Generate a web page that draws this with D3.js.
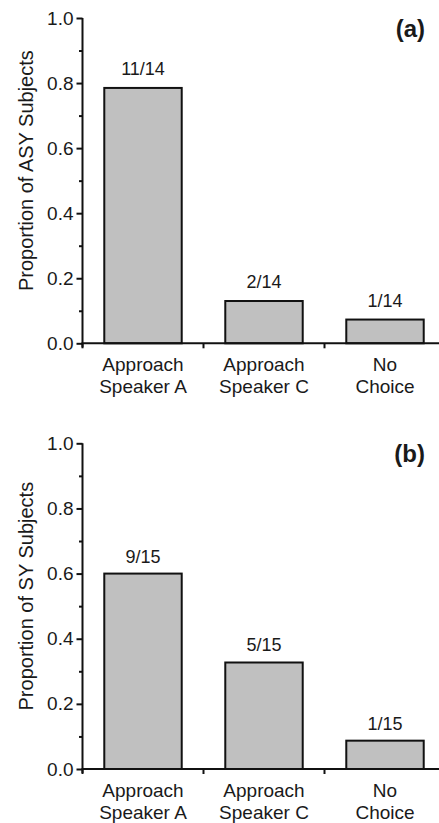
<!DOCTYPE html>
<html>
<head>
<meta charset="utf-8">
<script src="https://cdn.jsdelivr.net/npm/d3@7"></script>
<style>
  html, body { margin: 0; padding: 0; background: #fff; }
  svg { display: block; }
  text { font-family: "Liberation Sans", Arial, sans-serif; fill: #1a1a1a; }
</style>
</head>
<body>
<svg id="chart" width="439" height="823"></svg>
<script>
// ---- data ----
const categories = ["Approach Speaker A", "Approach Speaker C", "No Choice"];
const categoryLines = [["Approach", "Speaker A"], ["Approach", "Speaker C"], ["No", "Choice"]];
const valuesA = [0.785, 0.13, 0.073];
const labelsA = ["11/14", "2/14", "1/14"];
const valuesB = [0.6, 0.327, 0.087];
const labelsB = ["9/15", "5/15", "1/15"];
const majorTicks = [0.0, 0.2, 0.4, 0.6, 0.8, 1.0];
const minorTicks = [0.1, 0.3, 0.5, 0.7, 0.9];
const panelTitles = ["Proportion of ASY Subjects", "Proportion of SY Subjects"];
const panelTags = ["(a)", "(b)"];

const svg = d3.select("#chart");

const panels = [
  { values: valuesA, labels: labelsA, title: panelTitles[0], tag: panelTags[0], top: 18, bottom: 343.3, labelGap: 13 },
  { values: valuesB, labels: labelsB, title: panelTitles[1], tag: panelTags[1], top: 443.3, bottom: 769, labelGap: 11 }
];

const axisX = 82.5;

panels.forEach(p => {
  const g = svg.append("g");
  const y = d3.scaleLinear().domain([0, 1]).range([p.bottom, p.top]);
  const x = d3.scaleBand().domain(categories).range([axisX, axisX + 363]).paddingInner(0.36).paddingOuter(0.18);

  // bars
  g.selectAll("rect.bar").data(p.values).join("rect")
    .attr("class", "bar")
    .attr("x", (d, i) => x(categories[i]))
    .attr("width", x.bandwidth())
    .attr("y", d => y(d))
    .attr("height", d => y(0) - y(d))
    .attr("fill", "#c0c0c0")
    .attr("stroke", "#111")
    .attr("stroke-width", 2);

  // value labels
  g.selectAll("text.val").data(p.values).join("text")
    .attr("class", "val")
    .attr("x", (d, i) => x(categories[i]) + x.bandwidth() / 2)
    .attr("y", d => y(d) - p.labelGap)
    .attr("text-anchor", "middle")
    .attr("font-size", 18)
    .text((d, i) => p.labels[i]);

  // y axis major
  const ya = g.append("g").attr("transform", `translate(${axisX},0)`)
    .call(d3.axisLeft(y).tickValues(majorTicks).tickFormat(d3.format(".1f")).tickSize(6).tickSizeOuter(0).tickPadding(3));
  ya.select(".domain").attr("stroke", "#111").attr("stroke-width", 2).attr("d", `M0,${y(1)}V${y(0) + 4}`);
  ya.selectAll(".tick line").attr("stroke", "#111").attr("stroke-width", 2);
  ya.selectAll(".tick text").attr("font-size", 19).attr("fill", "#1a1a1a")
    .attr("font-family", '"Liberation Sans", Arial, sans-serif');

  // y axis minor
  const ym = g.append("g").attr("transform", `translate(${axisX},0)`)
    .call(d3.axisLeft(y).tickValues(minorTicks).tickFormat("").tickSize(3.5).tickSizeOuter(0));
  ym.select(".domain").remove();
  ym.selectAll(".tick line").attr("stroke", "#111").attr("stroke-width", 2);

  // x axis line
  g.append("line")
    .attr("x1", axisX - 1).attr("x2", 445)
    .attr("y1", y(0)).attr("y2", y(0))
    .attr("stroke", "#111").attr("stroke-width", 2);

  // x separator ticks at band boundaries
  const bounds = categories.map(c => x(c) + x.bandwidth() / 2 - x.step() / 2);
  g.selectAll("line.sep").data(bounds).join("line")
    .attr("class", "sep")
    .attr("x1", d => d).attr("x2", d => d)
    .attr("y1", y(0)).attr("y2", y(0) + 5)
    .attr("stroke", "#111").attr("stroke-width", 2);

  // category labels
  categories.forEach((c, i) => {
    const t = g.append("text")
      .attr("x", x(c) + x.bandwidth() / 2)
      .attr("y", y(0) + 28)
      .attr("text-anchor", "middle")
      .attr("font-size", 19);
    categoryLines[i].forEach((line, j) => {
      t.append("tspan").attr("x", x(c) + x.bandwidth() / 2).attr("dy", j === 0 ? 0 : 22).text(line);
    });
  });

  // y title
  g.append("text")
    .attr("transform", `translate(33,${y(0.5) - 10}) rotate(-90)`)
    .attr("text-anchor", "middle")
    .attr("font-size", 20)
    .text(p.title);

  // panel tag
  g.append("text")
    .attr("x", 425)
    .attr("y", y(1) + 18.5)
    .attr("text-anchor", "end")
    .attr("font-size", 24)
    .attr("font-weight", "bold")
    .attr("font-family", '"DejaVu Sans", sans-serif')
    .text(p.tag);
});
</script>
</body>
</html>
